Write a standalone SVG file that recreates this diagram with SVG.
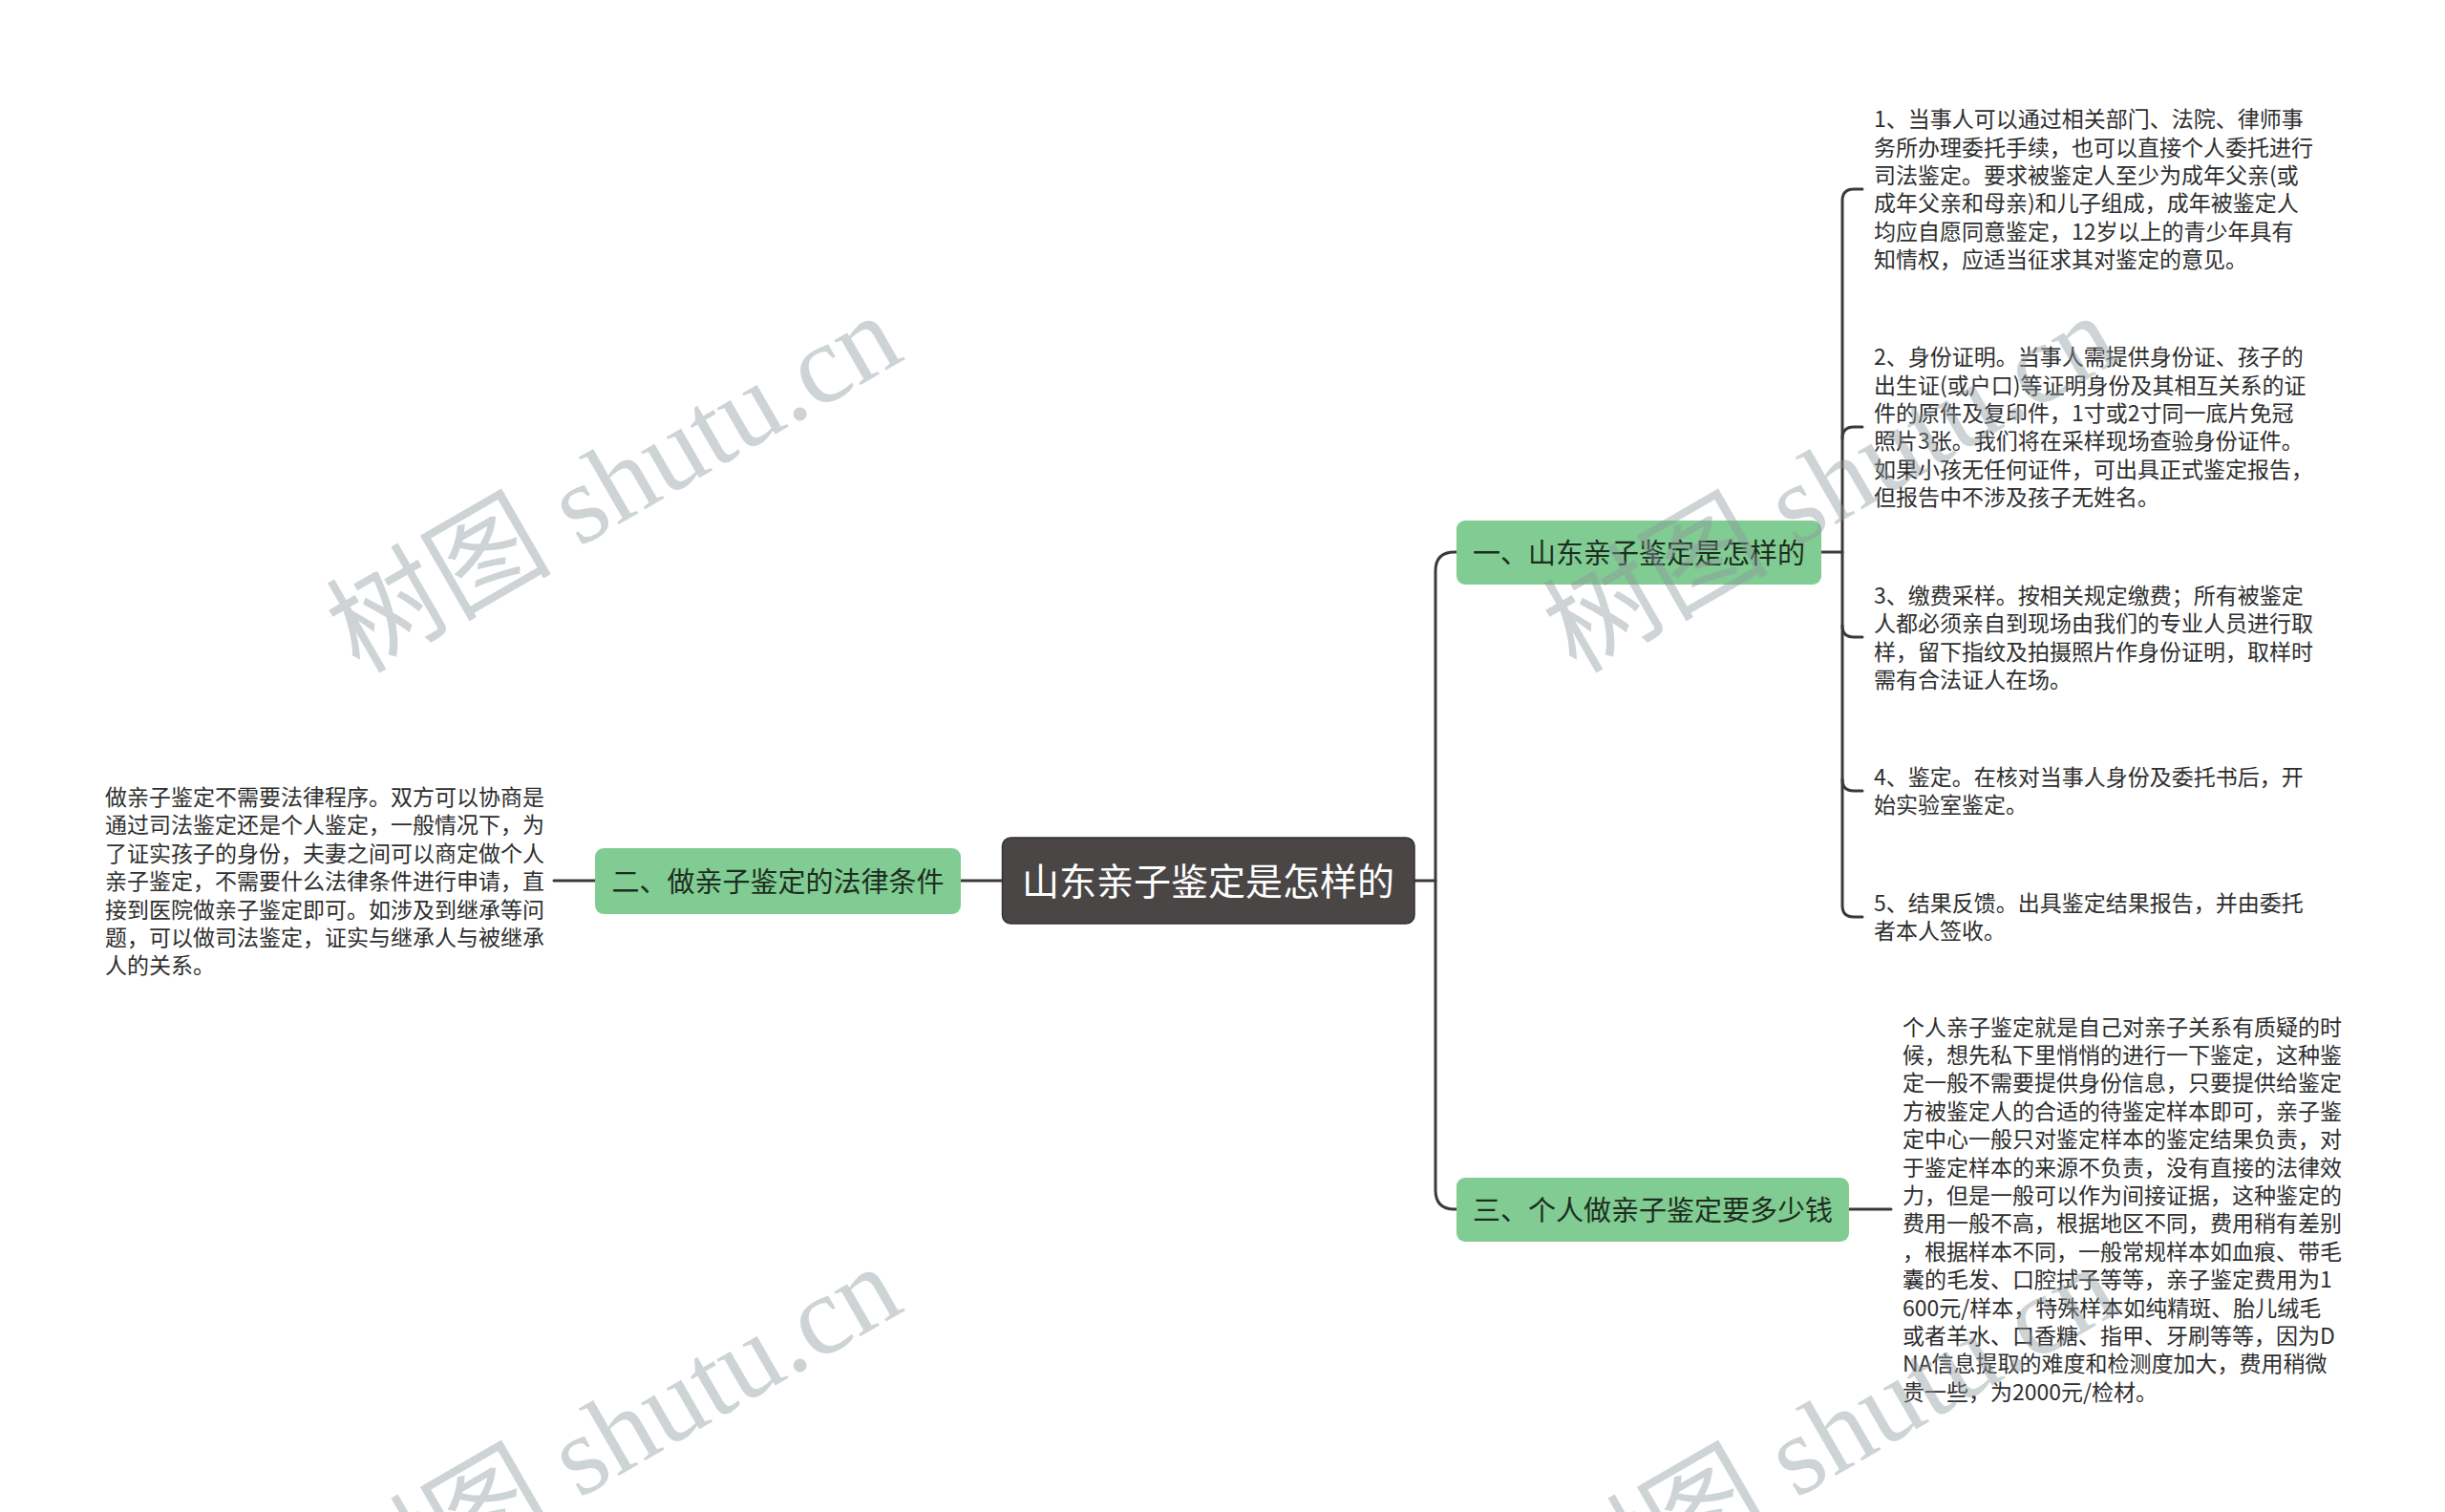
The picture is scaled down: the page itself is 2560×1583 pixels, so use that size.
<svg xmlns="http://www.w3.org/2000/svg" width="2560" height="1583" viewBox="0 0 2560 1583">
<style>
.conn{fill:none;stroke:#3d3939;stroke-width:3;stroke-linecap:round}
.green{fill:#80cc92}
.gt{font-family:"Noto Sans CJK SC","Noto Sans",sans-serif;font-size:29px;fill:#1e2c21;text-anchor:middle}
.ct{font-family:"Noto Sans CJK SC","Noto Sans",sans-serif;font-size:39px;fill:#ffffff;text-anchor:middle}
.lt{font-family:"Noto Sans CJK SC","Noto Sans",sans-serif;font-size:23px;fill:#2e2e2e}
.wm{font-family:"Liberation Serif","Noto Sans CJK SC",serif;font-size:118px;fill:#8d979c;opacity:0.42}
</style>
<rect width="2560" height="1583" fill="#ffffff"/>
<g id="connectors">
<path class="conn" d="M1481,922 H1503"/>
<path class="conn" d="M1525,578 H1523 Q1503,578 1503,598 V1246 Q1503,1266 1523,1266 H1525"/>
<path class="conn" d="M1049,922 H1006"/>
<path class="conn" d="M623,922 H580"/>
<path class="conn" d="M1907,578 H1929"/>
<path class="conn" d="M1950,198 H1941 Q1929,198 1929,210 V948 Q1929,960 1941,960 H1950"/>
<path class="conn" d="M1929,459 Q1929,447 1941,447 H1950"/>
<path class="conn" d="M1929,655 Q1929,667 1941,667 H1950"/>
<path class="conn" d="M1929,816 Q1929,828 1941,828 H1950"/>
<path class="conn" d="M1936,1266 H1980"/>
</g>
<g id="node-root">
<rect x="1049.5" y="877" width="431.5" height="90" rx="9" fill="#4a4646" stroke="#353232" stroke-width="1.5"/>
<text class="ct" x="1265" y="937">山东亲子鉴定是怎样的</text>
</g>
<g id="node-1">
<rect class="green" x="1525" y="545" width="382" height="67" rx="9"/>
<text class="gt" x="1716" y="589.5">一、山东亲子鉴定是怎样的</text>
</g>
<g id="node-2">
<rect class="green" x="623" y="888" width="383" height="69" rx="9"/>
<text class="gt" x="814.5" y="933.5">二、做亲子鉴定的法律条件</text>
</g>
<g id="node-3">
<rect class="green" x="1525" y="1233" width="411" height="67" rx="9"/>
<text class="gt" x="1730.5" y="1277.5">三、个人做亲子鉴定要多少钱</text>
</g>
<g id="leaf-1-1">
<text class="lt" x="1962"><tspan x="1962" y="133.2">1、当事人可以通过相关部门、法院、律师事</tspan><tspan x="1962" y="162.6">务所办理委托手续，也可以直接个人委托进行</tspan><tspan x="1962" y="192">司法鉴定。要求被鉴定人至少为成年父亲(或</tspan><tspan x="1962" y="221.4">成年父亲和母亲)和儿子组成，成年被鉴定人</tspan><tspan x="1962" y="250.8">均应自愿同意鉴定，12岁以上的青少年具有</tspan><tspan x="1962" y="280.2">知情权，应适当征求其对鉴定的意见。</tspan></text>
</g>
<g id="leaf-1-2">
<text class="lt" x="1962"><tspan x="1962" y="382.2">2、身份证明。当事人需提供身份证、孩子的</tspan><tspan x="1962" y="411.6">出生证(或户口)等证明身份及其相互关系的证</tspan><tspan x="1962" y="441">件的原件及复印件，1寸或2寸同一底片免冠</tspan><tspan x="1962" y="470.4">照片3张。我们将在采样现场查验身份证件。</tspan><tspan x="1962" y="499.8">如果小孩无任何证件，可出具正式鉴定报告，</tspan><tspan x="1962" y="529.2">但报告中不涉及孩子无姓名。</tspan></text>
</g>
<g id="leaf-1-3">
<text class="lt" x="1962"><tspan x="1962" y="631.7">3、缴费采样。按相关规定缴费；所有被鉴定</tspan><tspan x="1962" y="661.1">人都必须亲自到现场由我们的专业人员进行取</tspan><tspan x="1962" y="690.5">样，留下指纹及拍摄照片作身份证明，取样时</tspan><tspan x="1962" y="719.9">需有合法证人在场。</tspan></text>
</g>
<g id="leaf-1-4">
<text class="lt" x="1962"><tspan x="1962" y="822">4、鉴定。在核对当事人身份及委托书后，开</tspan><tspan x="1962" y="851.4">始实验室鉴定。</tspan></text>
</g>
<g id="leaf-1-5">
<text class="lt" x="1962"><tspan x="1962" y="954">5、结果反馈。出具鉴定结果报告，并由委托</tspan><tspan x="1962" y="983.4">者本人签收。</tspan></text>
</g>
<g id="leaf-3-1">
<text class="lt" x="1992"><tspan x="1992" y="1083.6">个人亲子鉴定就是自己对亲子关系有质疑的时</tspan><tspan x="1992" y="1113">候，想先私下里悄悄的进行一下鉴定，这种鉴</tspan><tspan x="1992" y="1142.4">定一般不需要提供身份信息，只要提供给鉴定</tspan><tspan x="1992" y="1171.8">方被鉴定人的合适的待鉴定样本即可，亲子鉴</tspan><tspan x="1992" y="1201.2">定中心一般只对鉴定样本的鉴定结果负责，对</tspan><tspan x="1992" y="1230.6">于鉴定样本的来源不负责，没有直接的法律效</tspan><tspan x="1992" y="1260">力，但是一般可以作为间接证据，这种鉴定的</tspan><tspan x="1992" y="1289.4">费用一般不高，根据地区不同，费用稍有差别</tspan><tspan x="1992" y="1318.8">，根据样本不同，一般常规样本如血痕、带毛</tspan><tspan x="1992" y="1348.2">囊的毛发、口腔拭子等等，亲子鉴定费用为1</tspan><tspan x="1992" y="1377.6">600元/样本，特殊样本如纯精斑、胎儿绒毛</tspan><tspan x="1992" y="1407">或者羊水、口香糖、指甲、牙刷等等，因为D</tspan><tspan x="1992" y="1436.4">NA信息提取的难度和检测度加大，费用稍微</tspan><tspan x="1992" y="1465.8">贵一些，为2000元/检材。</tspan></text>
</g>
<g id="leaf-2-1">
<text class="lt" x="110"><tspan x="110" y="843">做亲子鉴定不需要法律程序。双方可以协商是</tspan><tspan x="110" y="872.4">通过司法鉴定还是个人鉴定，一般情况下，为</tspan><tspan x="110" y="901.8">了证实孩子的身份，夫妻之间可以商定做个人</tspan><tspan x="110" y="931.2">亲子鉴定，不需要什么法律条件进行申请，直</tspan><tspan x="110" y="960.6">接到医院做亲子鉴定即可。如涉及到继承等问</tspan><tspan x="110" y="990">题，可以做司法鉴定，证实与继承人与被继承</tspan><tspan x="110" y="1019.4">人的关系。</tspan></text>
</g>
<g id="watermarks">
<text class="wm" x="376" y="706" transform="rotate(-30 376 706)">树图 shutu.cn</text>
<text class="wm" x="1650" y="706" transform="rotate(-30 1650 706)">树图 shutu.cn</text>
<text class="wm" x="376" y="1702" transform="rotate(-30 376 1702)">树图 shutu.cn</text>
<text class="wm" x="1650" y="1702" transform="rotate(-30 1650 1702)">树图 shutu.cn</text>
</g>
</svg>
